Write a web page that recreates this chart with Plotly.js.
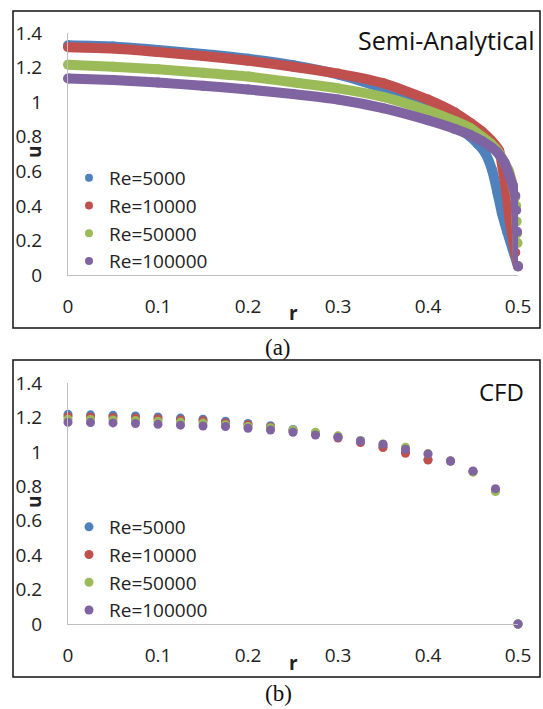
<!DOCTYPE html>
<html>
<head>
<meta charset="utf-8">
<script src="https://cdn.plot.ly/plotly-3.0.1.min.js"></script>
<style>html,body{margin:0;padding:0;background:#fff;}#chart{width:543px;height:709px;}</style>
</head>
<body>
<div id="chart"></div>
<script>
// ---------- DATA ----------
const seriesNames = ["Re=5000", "Re=10000", "Re=50000", "Re=100000"];
const seriesColors = ["#4F81BD", "#C0504D", "#9BBB59", "#8064A2"];

// (a) Semi-Analytical profiles
const rRe5000a   = [0, 0.05, 0.1, 0.15, 0.2, 0.25, 0.3, 0.35, 0.4, 0.43, 0.447, 0.455, 0.463, 0.471, 0.477, 0.482, 0.488, 0.494, 0.5];
const uRe5000a   = [1.329, 1.322, 1.302, 1.279, 1.251, 1.214, 1.16, 1.08, 0.955, 0.865, 0.80, 0.76, 0.71, 0.61, 0.48, 0.36, 0.25, 0.15, 0.05];
const rRe10000a  = [0, 0.05, 0.1, 0.15, 0.2, 0.25, 0.3, 0.35, 0.4, 0.43, 0.447, 0.46, 0.47, 0.479, 0.483, 0.487, 0.49, 0.494, 0.497, 0.5];
const uRe10000a  = [1.318, 1.31, 1.29, 1.267, 1.24, 1.205, 1.165, 1.11, 1.015, 0.94, 0.88, 0.83, 0.78, 0.72, 0.61, 0.48, 0.34, 0.22, 0.13, 0.05];
const rRe50000a  = [0, 0.05, 0.1, 0.15, 0.2, 0.25, 0.3, 0.35, 0.4, 0.43, 0.447, 0.46, 0.47, 0.477, 0.485, 0.49, 0.494, 0.497, 0.498, 0.4985, 0.499, 0.4995, 0.5];
const uRe50000a  = [1.216, 1.205, 1.19, 1.17, 1.148, 1.115, 1.08, 1.03, 0.95, 0.89, 0.85, 0.80, 0.76, 0.72, 0.65, 0.60, 0.52, 0.45, 0.40, 0.31, 0.24, 0.185, 0.05];
const rRe100000a = [0, 0.05, 0.1, 0.15, 0.2, 0.25, 0.3, 0.35, 0.4, 0.43, 0.447, 0.46, 0.47, 0.477, 0.485, 0.49, 0.494, 0.497, 0.498, 0.499, 0.5];
const uRe100000a = [1.137, 1.128, 1.113, 1.095, 1.073, 1.047, 1.015, 0.965, 0.895, 0.845, 0.81, 0.775, 0.74, 0.71, 0.65, 0.58, 0.52, 0.46, 0.375, 0.25, 0.05];

// (b) CFD points
const rCFD = [0, 0.025, 0.05, 0.075, 0.1, 0.125, 0.15, 0.175, 0.2, 0.225, 0.25, 0.275, 0.3, 0.325, 0.35, 0.375, 0.4, 0.425, 0.45, 0.475, 0.5];
const uRe5000b   = [1.218, 1.215, 1.212, 1.208, 1.203, 1.196, 1.19, 1.178, 1.165, 1.152, 1.13, 1.11, 1.09, 1.06, 1.03, 1.0, 0.955, 0.947, 0.885, 0.775, 0];
const uRe10000b  = [1.205, 1.203, 1.2, 1.196, 1.192, 1.186, 1.18, 1.168, 1.157, 1.145, 1.122, 1.105, 1.08, 1.054, 1.025, 0.992, 0.953, 0.947, 0.885, 0.775, 0];
const uRe50000b  = [1.19, 1.188, 1.185, 1.182, 1.178, 1.173, 1.167, 1.158, 1.148, 1.14, 1.127, 1.114, 1.093, 1.066, 1.046, 1.027, 0.99, 0.947, 0.882, 0.769, 0];
const uRe100000b = [1.172, 1.17, 1.168, 1.165, 1.16, 1.155, 1.15, 1.147, 1.137, 1.127, 1.114, 1.098, 1.085, 1.063, 1.044, 1.015, 0.988, 0.947, 0.889, 0.786, 0];

const xTickVals = [0, 0.1, 0.2, 0.3, 0.4, 0.5];
const xTickText = ["0", "0.1", "0.2", "0.3", "0.4", "0.5"];
const yTickVals = [0, 0.2, 0.4, 0.6, 0.8, 1, 1.2, 1.4];
const yTickText = ["0", "0.2", "0.4", "0.6", "0.8", "1", "1.2", "1.4"];

const titleA = "Semi-Analytical";
const titleB = "CFD";
const captionA = "(a)";
const captionB = "(b)";
const xTitle = "r";
const yTitle = "u";

// ---------- DRAW ----------
const W = 543, H = 709;
const px = x => x / W;
const py = y => 1 - y / H;
const FONT = "Open Sans, Noto Sans, sans-serif";

const aR = [rRe5000a, rRe10000a, rRe50000a, rRe100000a];
const aU = [uRe5000a, uRe10000a, uRe50000a, uRe100000a];
const bU = [uRe5000b, uRe10000b, uRe50000b, uRe100000b];

const traces = [];
// Panel (a): thick bands (dense point clouds)
for (let i = 0; i < 4; i++) {
  traces.push({
    x: aR[i], y: aU[i], xaxis: "x", yaxis: "y", type: "scatter",
    mode: "lines+markers", line: {color: seriesColors[i], width: 10, shape: "spline", smoothing: 0.6},
    marker: {color: seriesColors[i], size: 10}, cliponaxis: false, showlegend: false, hoverinfo: "skip"
  });
}
// Legend entries for (a)
for (let i = 0; i < 4; i++) {
  traces.push({
    x: [null], y: [null], xaxis: "x", yaxis: "y", type: "scatter", mode: "markers",
    name: seriesNames[i], marker: {color: seriesColors[i], size: 8}, legend: "legend", showlegend: true
  });
}
// Panel (b): discrete points
for (let i = 0; i < 4; i++) {
  traces.push({
    x: rCFD, y: bU[i], xaxis: "x2", yaxis: "y2", type: "scatter", mode: "markers",
    name: seriesNames[i], marker: {color: seriesColors[i], size: 9}, cliponaxis: false,
    legend: "legend2", showlegend: true
  });
}

const xDom = [px(68), px(518)];
function xAxis(anchor) {
  return {
    domain: xDom, anchor: anchor, range: [0, 0.5], showgrid: false, zeroline: false,
    showline: true, linecolor: "#BFBFBF", linewidth: 1, ticks: "", tickvals: xTickVals, ticktext: xTickText,
    tickfont: {family: FONT, size: 19, color: "#222"}, ticklabelstandoff: 14, fixedrange: true
  };
}
function yAxis(anchor, dom) {
  return {
    domain: dom, anchor: anchor, range: [0, 1.4], showgrid: false, zeroline: false,
    showline: true, linecolor: "#BFBFBF", linewidth: 1, ticks: "", tickvals: yTickVals, ticktext: yTickText,
    tickfont: {family: FONT, size: 19, color: "#222"}, ticklabelstandoff: 21, fixedrange: true
  };
}

const legendBase = {
  xanchor: "left", yanchor: "top", bgcolor: "rgba(0,0,0,0)", borderwidth: 0,
  font: {family: FONT, size: 19, color: "#222"}, itemwidth: 30, tracegroupgap: 0
};

const layout = {
  width: W, height: H, margin: {l: 0, r: 0, t: 0, b: 0},
  paper_bgcolor: "#fff", plot_bgcolor: "#fff",
  xaxis: xAxis("y"), yaxis: yAxis("x", [py(275), py(33)]),
  xaxis2: xAxis("y2"), yaxis2: yAxis("x2", [py(624), py(383)]),
  legend: Object.assign({x: px(69), y: py(159)}, legendBase),
  legend2: Object.assign({x: px(69), y: py(508)}, legendBase),
  shapes: [
    {type: "rect", xref: "paper", yref: "paper", x0: px(13), x1: px(540), y0: py(328), y1: py(11), line: {color: "#111", width: 1.5}},
    {type: "rect", xref: "paper", yref: "paper", x0: px(13), x1: px(540), y0: py(677), y1: py(360), line: {color: "#111", width: 1.5}}
  ],
  annotations: [
    {text: titleA, xref: "paper", yref: "paper", x: px(537), y: py(40), xanchor: "right", yanchor: "middle", showarrow: false, font: {family: FONT, size: 25, color: "#111"}},
    {text: titleB, xref: "paper", yref: "paper", x: px(526), y: py(391), xanchor: "right", yanchor: "middle", showarrow: false, font: {family: FONT, size: 24, color: "#111"}},
    {text: "<b>" + yTitle + "</b>", xref: "paper", yref: "paper", x: px(34), y: py(152), xanchor: "center", yanchor: "middle", textangle: -90, showarrow: false, font: {family: FONT, size: 19, color: "#222"}},
    {text: "<b>" + yTitle + "</b>", xref: "paper", yref: "paper", x: px(34), y: py(502), xanchor: "center", yanchor: "middle", textangle: -90, showarrow: false, font: {family: FONT, size: 19, color: "#222"}},
    {text: "<b>" + xTitle + "</b>", xref: "paper", yref: "paper", x: px(293), y: py(313), xanchor: "center", yanchor: "middle", showarrow: false, font: {family: FONT, size: 19, color: "#222"}},
    {text: "<b>" + xTitle + "</b>", xref: "paper", yref: "paper", x: px(293), y: py(663), xanchor: "center", yanchor: "middle", showarrow: false, font: {family: FONT, size: 19, color: "#222"}},
    {text: captionA, xref: "paper", yref: "paper", x: px(278), y: py(347), xanchor: "center", yanchor: "middle", showarrow: false, font: {family: "Liberation Serif, serif", size: 23, color: "#111"}},
    {text: captionB, xref: "paper", yref: "paper", x: px(278), y: py(693), xanchor: "center", yanchor: "middle", showarrow: false, font: {family: "Liberation Serif, serif", size: 23, color: "#111"}}
  ]
};

Plotly.newPlot("chart", traces, layout, {staticPlot: true, displayModeBar: false});
</script>
</body>
</html>
